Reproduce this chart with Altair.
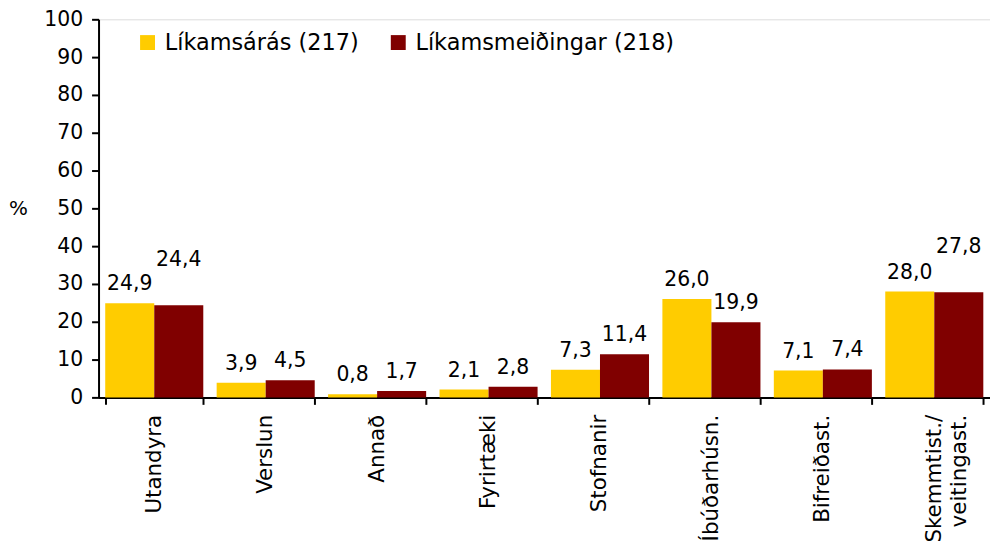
import altair as alt
import pandas as pd

categories = ["Utandyra", "Verslun", "Annað", "Fyrirtæki", "Stofnanir",
              "Íbúðarhúsn.", "Bifreiðast.", "Skemmtist./veitingast."]
series = ["Líkamsárás (217)", "Líkamsmeiðingar (218)"]
assault = [24.9, 3.9, 0.8, 2.1, 7.3, 26.0, 7.1, 28.0]
injury = [24.4, 4.5, 1.7, 2.8, 11.4, 19.9, 7.4, 27.8]
colors = ["#FFCC00", "#800000"]
# categories whose second label Excel lifted to avoid crowding
raised = ["Utandyra", "Skemmtist./veitingast."]

rows = []
for i, c in enumerate(categories):
    for s, vals in zip(series, [assault, injury]):
        rows.append({
            "cat": c,
            "series": s,
            "value": vals[i],
            "label": f"{vals[i]:.1f}".replace(".", ","),
            "raised": (s == series[1] and c in raised),
        })
df = pd.DataFrame(rows)

FONT = "DejaVu Sans"

x_enc = alt.X("cat:N", sort=categories, title=None,
              scale=alt.Scale(paddingInner=0.12, paddingOuter=0.06),
              axis=alt.Axis(labelAngle=-90, labelFont=FONT, labelFontSize=21.5,
                            labelColor="black", labelPadding=10, labelLimit=0,
                            tickBand="extent", tickSize=7, tickWidth=2,
                            tickColor="black", domainColor="black", domainWidth=2,
                            labelLineHeight=25,
                            labelExpr="datum.value == 'Skemmtist./veitingast.' ? ['Skemmtist./', 'veitingast.'] : datum.label"))
xoff = alt.XOffset("series:N", sort=series, scale=alt.Scale(paddingInner=0, paddingOuter=0))
y_enc = alt.Y("value:Q", scale=alt.Scale(domain=[0, 100]),
              axis=alt.Axis(values=list(range(0, 101, 10)), grid=False,
                            title="%", titleAngle=0, titleFont=FONT, titleFontSize=20,
                            titleFontWeight="normal", titleColor="black",
                            titleX=-81, titleY=190, titleAlign="center", titleBaseline="middle",
                            labelFont=FONT, labelFontSize=20.5, labelColor="black",
                            labelPadding=9, tickSize=7, tickWidth=2, tickColor="black",
                            domainColor="black", domainWidth=2))

base = alt.Chart(df)

bars = base.mark_bar().encode(
    x=x_enc, xOffset=xoff, y=y_enc,
    color=alt.Color("series:N", sort=series,
                    scale=alt.Scale(domain=series, range=colors),
                    legend=alt.Legend(title=None, orient="none", legendX=38, legendY=12,
                                      direction="horizontal", symbolType="square",
                                      symbolSize=225, symbolStrokeWidth=0,
                                      labelFont=FONT, labelFontSize=22.5, labelColor="black",
                                      labelLimit=0, labelOffset=6, columnPadding=28)),
)

labels_normal = base.transform_filter("!datum.raised").mark_text(
    font=FONT, fontSize=20.5, color="black", baseline="alphabetic", dy=-13
).encode(x=x_enc, xOffset=xoff, y=y_enc, text="label:N")

labels_raised = base.transform_filter("datum.raised").mark_text(
    font=FONT, fontSize=20.5, color="black", baseline="alphabetic", dy=-39
).encode(x=x_enc, xOffset=xoff, y=y_enc, text="label:N")

chart = alt.layer(bars, labels_normal, labels_raised).properties(
    width=896, height=380,
    autosize=alt.AutoSizeParams(type="none"),
    padding={"left": 91, "top": 10, "right": 0, "bottom": 147},
).configure_view(stroke=None).configure(background="white")

chart.save("out.html", embed_options={"renderer": "svg", "actions": False})
